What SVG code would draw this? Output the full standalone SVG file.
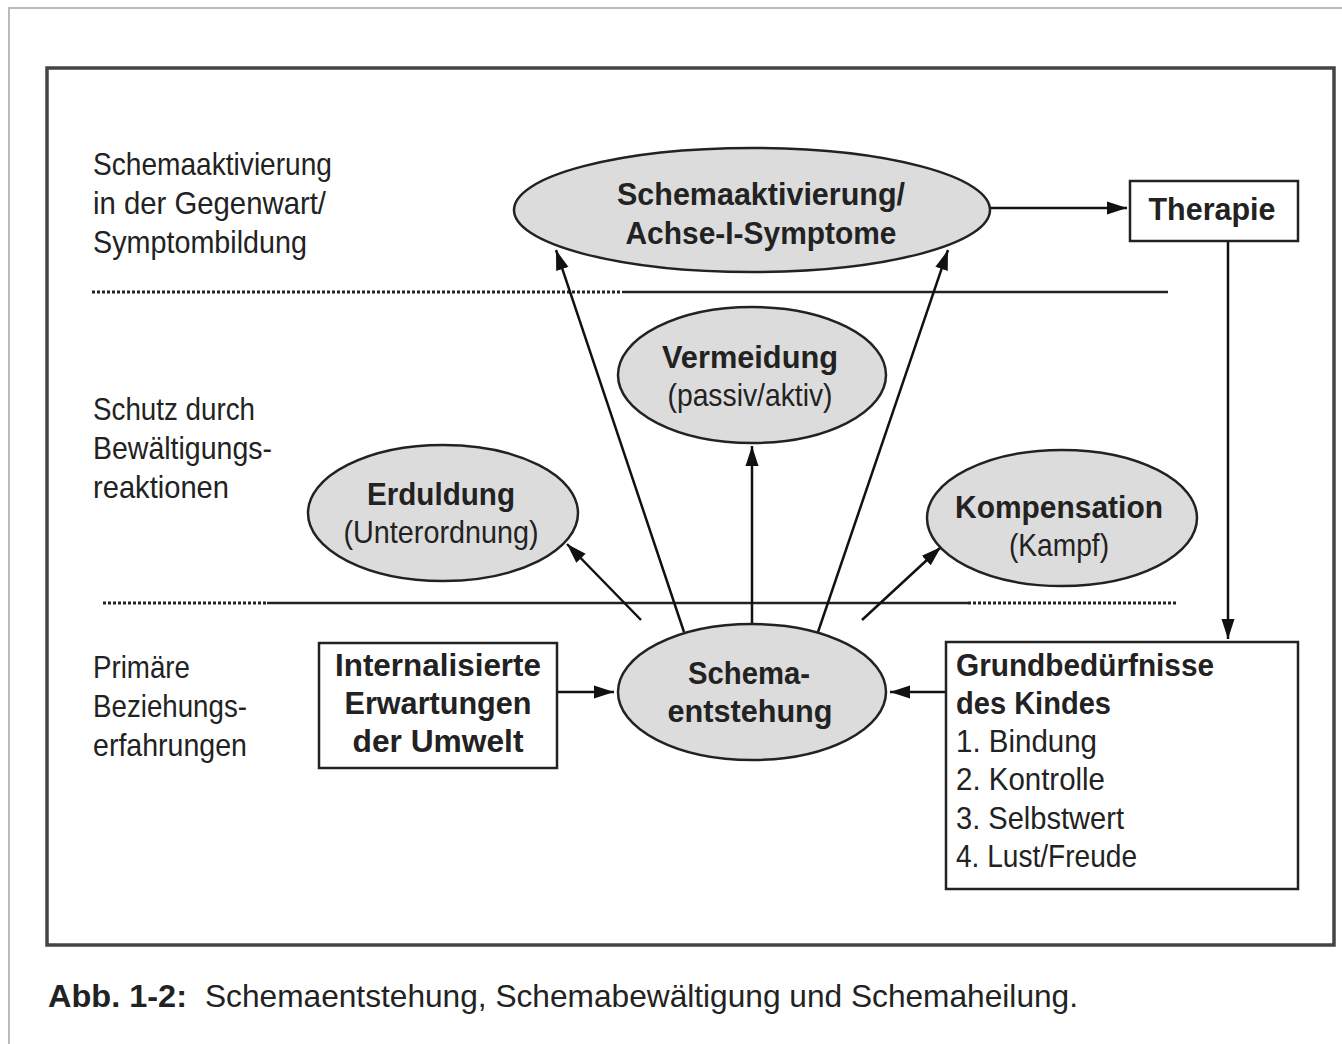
<svg xmlns="http://www.w3.org/2000/svg" width="1342" height="1044" viewBox="0 0 1342 1044">
<defs>
<style>
.t{font-family:"Liberation Sans",Arial,sans-serif;fill:#222;font-size:32px}
.b{font-weight:bold}
.c{text-anchor:middle}
.ell{fill:#dcdcdc;stroke:#222;stroke-width:2.5}
.box{fill:#fff;stroke:#222;stroke-width:2.5}
.con{stroke:#111;stroke-width:2.5;fill:none}
.dot{stroke:#222;stroke-width:3;stroke-dasharray:3 2;fill:none}
.sol{stroke:#222;stroke-width:2.5;fill:none}
</style>
<marker id="ah" markerUnits="userSpaceOnUse" markerWidth="22" markerHeight="16" refX="20" refY="8" orient="auto">
<path d="M0,1.5 L20,8 L0,14.5 Z" fill="#111"/>
</marker>
</defs>
<rect width="1342" height="1044" fill="#fff"/>
<path d="M9,1044 V8 H1342" stroke="#bbb" stroke-width="2" fill="none"/>
<rect x="47" y="68" width="1287" height="877" fill="none" stroke="#444" stroke-width="3.5"/>

<g id="separators">
<line class="dot" x1="92" y1="292" x2="622" y2="292"/>
<line class="sol" x1="622" y1="292" x2="1168" y2="292"/>
<line class="dot" x1="103" y1="603" x2="267" y2="603"/>
<line class="sol" x1="267" y1="603" x2="968" y2="603"/>
<line class="dot" x1="968" y1="603" x2="1178" y2="603"/>
</g>

<g id="labels" lengthAdjust="spacingAndGlyphs">
<text class="t" x="93" y="175" textLength="239" lengthAdjust="spacingAndGlyphs">Schemaaktivierung</text>
<text class="t" x="93" y="214" textLength="233" lengthAdjust="spacingAndGlyphs">in der Gegenwart/</text>
<text class="t" x="93" y="253" textLength="214" lengthAdjust="spacingAndGlyphs">Symptombildung</text>
<text class="t" x="93" y="420" textLength="162" lengthAdjust="spacingAndGlyphs">Schutz durch</text>
<text class="t" x="93" y="459" textLength="179" lengthAdjust="spacingAndGlyphs">Bewältigungs-</text>
<text class="t" x="93" y="498" textLength="136" lengthAdjust="spacingAndGlyphs">reaktionen</text>
<text class="t" x="93" y="678" textLength="97" lengthAdjust="spacingAndGlyphs">Primäre</text>
<text class="t" x="93" y="717" textLength="154" lengthAdjust="spacingAndGlyphs">Beziehungs-</text>
<text class="t" x="93" y="756" textLength="154" lengthAdjust="spacingAndGlyphs">erfahrungen</text>
</g>

<g id="connectors">
<line class="con" x1="990" y1="208" x2="1127" y2="208" marker-end="url(#ah)"/>
<line class="con" x1="1228" y1="241" x2="1228" y2="639" marker-end="url(#ah)"/>
<line class="con" x1="946" y1="692" x2="890" y2="692" marker-end="url(#ah)"/>
<line class="con" x1="557" y1="692" x2="614" y2="692" marker-end="url(#ah)"/>
<line class="con" x1="752" y1="624" x2="752" y2="446" marker-end="url(#ah)"/>
<line class="con" x1="684" y1="632" x2="556" y2="250" marker-end="url(#ah)"/>
<line class="con" x1="818" y1="632" x2="948" y2="250" marker-end="url(#ah)"/>
<line class="con" x1="641" y1="620" x2="567" y2="544" marker-end="url(#ah)"/>
<line class="con" x1="862" y1="620" x2="941" y2="547" marker-end="url(#ah)"/>
</g>

<g id="n-aktivierung">
<ellipse class="ell" cx="752" cy="210" rx="238" ry="62"/>
<text class="t b c" x="761" y="205" textLength="288" lengthAdjust="spacingAndGlyphs">Schemaaktivierung/</text>
<text class="t b c" x="761" y="244" textLength="271" lengthAdjust="spacingAndGlyphs">Achse-I-Symptome</text>
</g>
<g id="n-therapie">
<rect class="box" x="1130" y="181" width="168" height="60"/>
<text class="t b c" x="1212" y="220" textLength="127" lengthAdjust="spacingAndGlyphs">Therapie</text>
</g>
<g id="n-vermeidung">
<ellipse class="ell" cx="752" cy="375" rx="134" ry="68"/>
<text class="t b c" x="750" y="368" textLength="176" lengthAdjust="spacingAndGlyphs">Vermeidung</text>
<text class="t c" x="750" y="406" textLength="165" lengthAdjust="spacingAndGlyphs">(passiv/aktiv)</text>
</g>
<g id="n-erduldung">
<ellipse class="ell" cx="443" cy="513" rx="135" ry="68"/>
<text class="t b c" x="441" y="505" textLength="148" lengthAdjust="spacingAndGlyphs">Erduldung</text>
<text class="t c" x="441" y="543" textLength="195" lengthAdjust="spacingAndGlyphs">(Unterordnung)</text>
</g>
<g id="n-kompensation">
<ellipse class="ell" cx="1062" cy="518" rx="135" ry="68"/>
<text class="t b c" x="1059" y="518" textLength="208" lengthAdjust="spacingAndGlyphs">Kompensation</text>
<text class="t c" x="1059" y="556" textLength="100" lengthAdjust="spacingAndGlyphs">(Kampf)</text>
</g>
<g id="n-entstehung">
<ellipse class="ell" cx="752" cy="692" rx="134" ry="68"/>
<text class="t b c" x="749" y="684" textLength="122" lengthAdjust="spacingAndGlyphs">Schema-</text>
<text class="t b c" x="750" y="722" textLength="165" lengthAdjust="spacingAndGlyphs">entstehung</text>
</g>
<g id="n-erwartungen">
<rect class="box" x="319" y="643" width="238" height="125"/>
<text class="t b c" x="438" y="676" textLength="206" lengthAdjust="spacingAndGlyphs">Internalisierte</text>
<text class="t b c" x="438" y="714" textLength="187" lengthAdjust="spacingAndGlyphs">Erwartungen</text>
<text class="t b c" x="438" y="752" textLength="171" lengthAdjust="spacingAndGlyphs">der Umwelt</text>
</g>
<g id="n-grundbeduerfnisse">
<rect class="box" x="946" y="642" width="352" height="247"/>
<text class="t b" x="956" y="676" textLength="258" lengthAdjust="spacingAndGlyphs">Grundbedürfnisse</text>
<text class="t b" x="956" y="714" textLength="155" lengthAdjust="spacingAndGlyphs">des Kindes</text>
<text class="t" x="956" y="752" textLength="141" lengthAdjust="spacingAndGlyphs">1. Bindung</text>
<text class="t" x="956" y="790" textLength="149" lengthAdjust="spacingAndGlyphs">2. Kontrolle</text>
<text class="t" x="956" y="829" textLength="168" lengthAdjust="spacingAndGlyphs">3. Selbstwert</text>
<text class="t" x="956" y="867" textLength="181" lengthAdjust="spacingAndGlyphs">4. Lust/Freude</text>
</g>

<g id="caption">
<text class="t b" x="48" y="1007" textLength="139" lengthAdjust="spacingAndGlyphs">Abb. 1-2:</text>
<text class="t" x="205" y="1007" textLength="873" lengthAdjust="spacingAndGlyphs">Schemaentstehung, Schemabewältigung und Schemaheilung.</text>
</g>
</svg>
